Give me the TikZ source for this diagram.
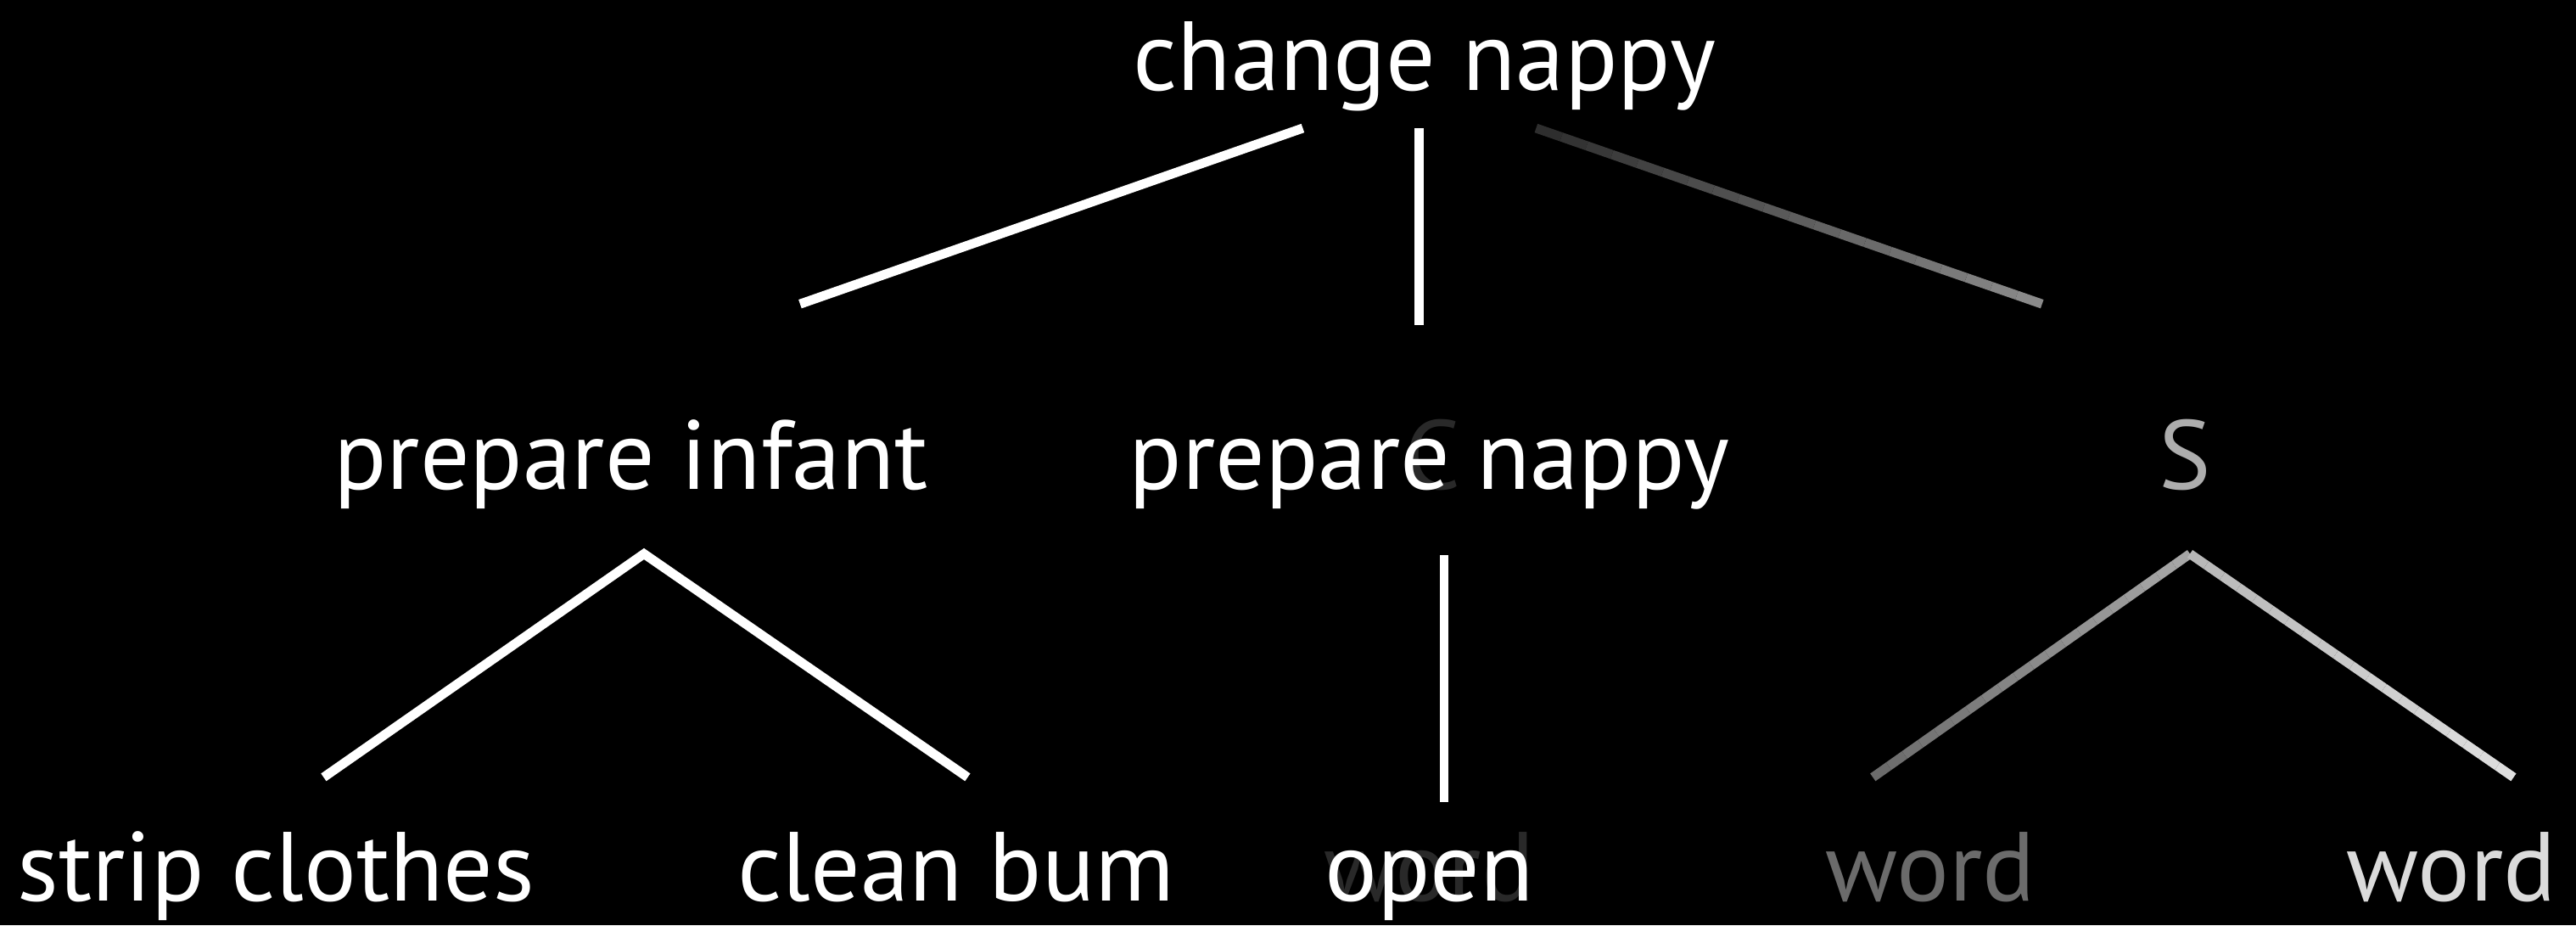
\documentclass[tikz,border=0pt]{standalone}
\usepackage{fontspec}
\setmainfont{PT Sans}
\usetikzlibrary{calc}
\definecolor{ghostgray}{gray}{0.16}
\definecolor{sgray}{gray}{0.68}
\definecolor{wordleft}{gray}{0.42}
\definecolor{wordright}{gray}{0.86}
% branch fading from one grey to another, in 20 pieces
\newcommand\fadebranch[4]{%
  \foreach \i in {0,...,19} {
    \pgfmathtruncatemacro\mix{#3+(#4-#3)*(\i+0.5)/20}
    \draw[branch,color=white!\mix!black] ($(#1)!{\i/20}!(#2)$) -- ($(#1)!{(\i+1)/20}!(#2)$);
  }}
\begin{document}
\begin{tikzpicture}[x=0.02cm,y=-0.02cm,line cap=butt,
    lbl/.style={anchor=base,inner sep=0pt,text=white,font=\fontsize{34}{38}\selectfont},
    branch/.style={white,line width=3.2pt}]
\fill[black] (0,0) rectangle (1568,563);
\useasboundingbox (0,0) rectangle (1568,563);
% faint left-overs of an earlier slide
\node[lbl,text=ghostgray] (ghostc) at (872,298) {C};
\node[lbl,text=ghostgray] (ghostw) at (870,548) {word};
% labels
\node[lbl] (root) at (867,55) {change nappy};
\node[lbl] (infant) at (384,298) {prepare infant};
\node[lbl] (nappy) at (870,298) {prepare nappy};
\node[lbl,text=sgray] (s) at (1330,298) {S};
\node[lbl] (strip) at (168,548) {strip clothes};
\node[lbl] (clean) at (582,548) {clean bum};
\node[lbl] (open) at (870,548) {open};
\node[lbl,text=wordleft] (wordl) at (1175,548) {word};
\node[lbl,text=wordright] (wordr) at (1492,548) {word};
% branch ends
\coordinate (r1) at (793,78);  \coordinate (r1e) at (487,185);
\coordinate (r2) at (864,78);  \coordinate (r2e) at (864,198);
\coordinate (r3) at (935,78);  \coordinate (r3e) at (1243,185);
\coordinate (i0) at (392,337); \coordinate (i1) at (197,473); \coordinate (i2) at (589,473);
\coordinate (n0) at (879,338); \coordinate (n1) at (879,488);
\coordinate (s0) at (1333,337); \coordinate (s1) at (1140,473); \coordinate (s2) at (1530,473);
% branches
\draw[branch] (r1) -- (r1e);
\draw[branch] (r2) -- (r2e);
\fadebranch{r3}{r3e}{18}{55}
\draw[branch] (i1) -- (i0) -- (i2);
\draw[branch] (n0) -- (n1);
\fadebranch{s0}{s1}{66}{42}
\fadebranch{s0}{s2}{72}{88}
\end{tikzpicture}
\end{document}
